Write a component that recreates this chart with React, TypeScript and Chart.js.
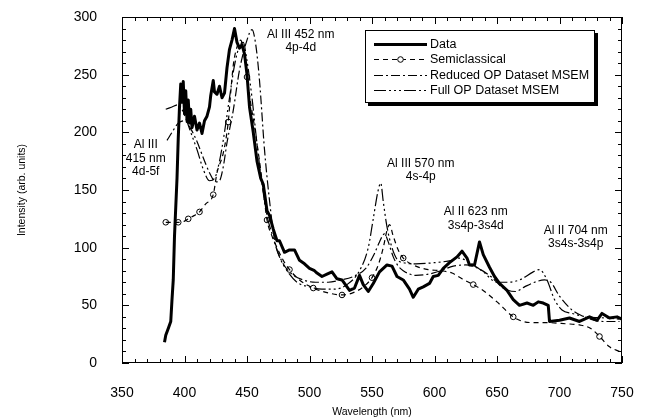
import { useEffect, useRef } from "react";
import { Chart, registerables } from "chart.js";

Chart.register(...registerables);

const FONT = "'Liberation Sans', Arial, Helvetica, sans-serif";

const X_MIN = 350;
const X_MAX = 750;
const X_STEP = 50;
const X_MINOR = 10;
const Y_MIN = 0;
const Y_MAX = 300;
const Y_STEP = 50;
const Y_MINOR = 10;

// Measured data (thick solid)
const dataX = [384, 385, 387, 389, 390, 391, 392, 393, 394, 395, 396, 397, 398, 399, 400, 401, 402, 403, 404, 405, 406, 408, 410, 412, 414, 416, 418, 420, 421, 423, 424, 426, 428, 430, 432, 434, 436, 438, 440, 442, 444, 446, 448, 450, 452, 455, 458, 461, 463, 466, 468, 471, 474, 476, 480, 484, 488, 492, 496, 500, 504, 506, 510, 514, 518, 522, 526, 530, 532, 536, 540, 543, 547, 551, 556, 562, 566, 570, 575, 580, 583, 587, 591, 596, 599, 603, 607, 612, 618, 622, 626, 628, 632, 636, 639, 644, 648, 652, 658, 663, 668, 674, 679, 683, 687, 691, 692, 700, 708, 716, 724, 730, 734, 740, 746, 750];
const dataY = [18, 24, 30, 36, 55, 72, 110, 135, 160, 195, 222, 242, 226, 244, 216, 236, 210, 228, 208, 220, 204, 214, 202, 208, 199, 210, 214, 222, 232, 245, 235, 233, 240, 230, 234, 256, 272, 280, 290, 278, 273, 276, 268, 250, 222, 200, 175, 160, 155, 132, 128, 116, 106, 106, 96, 98, 98, 89, 86, 82, 80, 78, 75, 77, 79, 73, 72, 66, 63, 65, 76, 68, 62, 69, 79, 85, 84, 75, 72, 64, 57, 64, 66, 69, 75, 76, 82, 87, 92, 97, 91, 85, 85, 105, 94, 83, 75, 69, 63, 55, 50, 52, 50, 53, 52, 50, 36, 37, 39, 36, 40, 37, 43, 39, 40, 38];

// Semiclassical (dashed with open circles)
const semiX = [385, 390, 395, 400, 403, 408, 412, 417, 423, 426, 431, 435, 437, 439, 442, 445, 447, 450, 453, 456, 460, 463, 466, 470, 474, 479, 484, 492, 503, 514, 526, 535, 543, 550, 555, 559, 562, 564, 567, 571, 575, 585, 595, 605, 614, 622, 631, 640, 650, 663, 671, 680, 690, 705, 716, 725, 732, 740, 748];
const semiY = [122, 122, 122, 123, 125, 128, 131, 138, 146, 165, 182, 209, 235, 258, 274, 280, 272, 248, 225, 205, 175, 150, 124, 110, 100, 89, 81, 72, 65, 61, 59, 61, 66, 74, 85, 100, 115, 120, 110, 98, 91, 84, 81, 80, 78, 73, 68, 62, 53, 40, 36, 35, 35, 34, 33, 30, 23, 14, 10];
const semiMarkers = [385, 395, 403, 412, 423, 435, 450, 466, 484, 503, 526, 550, 575, 631, 663, 732];

// Reduced OP Dataset MSEM (dash-dot)
const redX = [386, 390, 395, 400, 405, 410, 415, 420, 425, 428, 431, 434, 439, 444, 450, 454, 457, 460, 464, 468, 472, 478, 485, 495, 505, 515, 525, 535, 545, 552, 556, 560, 563, 567, 571, 575, 585, 595, 605, 615, 625, 635, 645, 655, 665, 672, 680, 688, 693, 700, 710, 720, 735, 748];
const redY = [193, 200, 208, 210, 203, 192, 178, 165, 157, 158, 170, 191, 219, 254, 280, 289, 276, 245, 185, 141, 107, 88, 78, 72, 70, 70, 72, 75, 82, 95, 105, 112, 105, 92, 84, 80, 76, 77, 80, 84, 85, 82, 75, 65, 62, 66, 70, 72, 70, 58, 46, 40, 36, 36];

// Full OP Dataset MSEM (dash-dot-dot)
const fullX = [385, 390, 395, 400, 405, 410, 415, 420, 424, 428, 432, 436, 440, 444, 447, 450, 454, 458, 462, 466, 470, 476, 482, 490, 500, 510, 520, 530, 540, 547, 551, 555, 557, 559, 562, 566, 570, 575, 585, 600, 614, 620, 628, 639, 650, 658, 668, 679, 684, 690, 696, 702, 710, 722, 738, 748];
const fullY = [220, 222, 224, 215, 200, 185, 168, 158, 160, 175, 200, 230, 258, 275, 278, 262, 230, 190, 155, 128, 112, 92, 80, 70, 66, 64, 64, 68, 80, 100, 125, 150, 156, 140, 118, 100, 90, 87, 86, 87, 89, 91, 87, 79, 70, 70, 72, 79, 81, 72, 55, 46, 43, 40, 39, 38];

const seriesLabels = ["Data", "Semiclassical", "Reduced OP Dataset MSEM", "Full OP Dataset MSEM"];

// Line annotations: anchor (nm, intensity) and text lines
const annotX = [493, 369, 589, 633, 713];
const annotY = [285, 189, 173, 131, 115];
const annotText = [
  ["Al III 452 nm", "4p-4d"],
  ["Al III", "415 nm", "4d-5f"],
  ["Al III 570 nm", "4s-4p"],
  ["Al II 623 nm", "3s4p-3s4d"],
  ["Al II 704 nm", "3s4s-3s4p"],
];

// Plot frame inside the 646x419 page
const AREA = { left: 122, right: 622, top: 17, bottom: 363 };

const pts = (xs: number[], ys: number[]) => xs.map((x, i) => ({ x, y: ys[i] }));

const ticksPlugin = {
  id: "inwardTicks",
  afterDraw(chart: any) {
    const { ctx, chartArea, scales } = chart;
    const { left, right, top, bottom } = chartArea;
    const xs = scales.x;
    const ys = scales.y;
    ctx.save();
    ctx.strokeStyle = "#000";
    ctx.lineWidth = 1;
    ctx.beginPath();
    for (let v = X_MIN; v <= X_MAX; v += X_MINOR) {
      const p = Math.round(xs.getPixelForValue(v)) + 0.5;
      const len = v % X_STEP === 0 ? 7 : 4;
      ctx.moveTo(p, bottom);
      ctx.lineTo(p, bottom - len);
      ctx.moveTo(p, top);
      ctx.lineTo(p, top + len);
    }
    for (let v = Y_MIN; v <= Y_MAX; v += Y_MINOR) {
      const p = Math.round(ys.getPixelForValue(v)) + 0.5;
      const len = v % Y_STEP === 0 ? 7 : 4;
      ctx.moveTo(left, p);
      ctx.lineTo(left + len, p);
      ctx.moveTo(right, p);
      ctx.lineTo(right - len, p);
    }
    ctx.stroke();
    ctx.strokeRect(Math.round(left) + 0.5, Math.round(top) + 0.5, Math.round(right - left) - 1, Math.round(bottom - top) - 1);

    ctx.fillStyle = "#000";
    ctx.font = `12px ${FONT}`;
    ctx.textAlign = "center";
    ctx.textBaseline = "middle";
    annotText.forEach((lines, i) => {
      const ax = xs.getPixelForValue(annotX[i]);
      const ay = ys.getPixelForValue(annotY[i]);
      lines.forEach((t, j) => ctx.fillText(t, ax, ay + j * 13.5));
    });
    ctx.restore();
  },
};

const legendPlugin = {
  id: "boxLegend",
  afterDraw(chart: any) {
    const { ctx, chartArea } = chart;
    const bx = Math.round(chartArea.left) + 243;
    const by = Math.round(chartArea.top) + 13;
    const bw = 230;
    const bh = 73;
    ctx.save();
    ctx.fillStyle = "#000";
    ctx.fillRect(bx + 3, by + 3, bw, bh);
    ctx.fillStyle = "#fff";
    ctx.fillRect(bx, by, bw, bh);
    ctx.strokeStyle = "#000";
    ctx.lineWidth = 1;
    ctx.strokeRect(bx + 0.5, by + 0.5, bw - 1, bh - 1);
    ctx.font = `12.5px ${FONT}`;
    ctx.textAlign = "left";
    ctx.textBaseline = "middle";
    chart.data.datasets.forEach((ds: any, i: number) => {
      const y = by + 14 + i * 15.3;
      const x0 = bx + 9;
      const x1 = bx + 62;
      ctx.save();
      ctx.strokeStyle = "#000";
      ctx.lineWidth = ds.borderWidth;
      ctx.setLineDash(ds.borderDash || []);
      ctx.beginPath();
      ctx.moveTo(x0, Math.round(y) + 0.5);
      ctx.lineTo(x1, Math.round(y) + 0.5);
      ctx.stroke();
      if (ds.label === "Semiclassical") {
        ctx.setLineDash([]);
        ctx.lineWidth = 1;
        ctx.fillStyle = "#fff";
        ctx.beginPath();
        ctx.arc((x0 + x1) / 2, Math.round(y) + 0.5, 2.8, 0, Math.PI * 2);
        ctx.fill();
        ctx.stroke();
      }
      ctx.restore();
      ctx.fillStyle = "#000";
      ctx.fillText(ds.label, bx + 65, y + 0.5);
    });
    ctx.restore();
  },
};

export default function App() {
  const ref = useRef<HTMLCanvasElement | null>(null);
  useEffect(() => {
    if (!ref.current) return;
    const chart = new Chart(ref.current, {
      type: "line",
      data: {
        datasets: [
          { label: seriesLabels[0], data: pts(dataX, dataY), borderColor: "#000", borderWidth: 3, pointRadius: 0, tension: 0, borderJoinStyle: "round" },
          {
            label: seriesLabels[1], data: pts(semiX, semiY), borderColor: "#000", borderWidth: 1.2, borderDash: [5, 4],
            cubicInterpolationMode: "monotone",
            pointRadius: (c: any) => (semiMarkers.includes(semiX[c.dataIndex]) ? 2.8 : 0),
            pointBorderColor: "#000", pointBackgroundColor: "rgba(0,0,0,0)", pointBorderWidth: 1,
          },
          { label: seriesLabels[2], data: pts(redX, redY), borderColor: "#000", borderWidth: 1.2, borderDash: [9, 3, 2, 3], cubicInterpolationMode: "monotone", pointRadius: 0 },
          { label: seriesLabels[3], data: pts(fullX, fullY), borderColor: "#000", borderWidth: 1.2, borderDash: [12, 3, 2, 3, 2, 3, 2, 3], cubicInterpolationMode: "monotone", pointRadius: 0 },
        ] as any,
      },
      options: {
        responsive: false,
        animation: false,
        devicePixelRatio: 1,
        layout: { autoPadding: false, padding: { top: AREA.top, right: 646 - AREA.right, left: 0, bottom: 0 } },
        plugins: { legend: { display: false }, tooltip: { enabled: false } },
        scales: {
          x: {
            type: "linear", min: X_MIN, max: X_MAX,
            grid: { display: false, drawTicks: true, tickLength: 22 },
            border: { display: false },
            ticks: { stepSize: X_STEP, autoSkip: false, maxRotation: 0, padding: 0, color: "#000", font: { family: FONT, size: 14 } },
            title: { display: true, text: "Wavelength (nm)", color: "#000", font: { family: FONT, size: 10.5 }, padding: { top: 0, bottom: 1 } },
            afterFit: (s: any) => { s.height = 419 - AREA.bottom; },
          },
          y: {
            type: "linear", min: Y_MIN, max: Y_MAX,
            grid: { display: false, drawTicks: true, tickLength: 25 },
            border: { display: false },
            ticks: { stepSize: Y_STEP, padding: 0, color: "#000", font: { family: FONT, size: 14 } },
            title: { display: true, text: "Intensity (arb. units)", color: "#000", font: { family: FONT, size: 10.5 }, padding: { top: 16, bottom: 0 } },
            afterFit: (s: any) => { s.width = AREA.left; },
          },
        },
      } as any,
      plugins: [ticksPlugin, legendPlugin],
    });
    return () => chart.destroy();
  }, []);
  return (
    <div style={{ position: "absolute", left: 0, top: 0, width: 646, height: 419, background: "#fff" }}>
      <canvas ref={ref} width={646} height={419} style={{ width: 646, height: 419, display: "block" }} />
    </div>
  );
}
